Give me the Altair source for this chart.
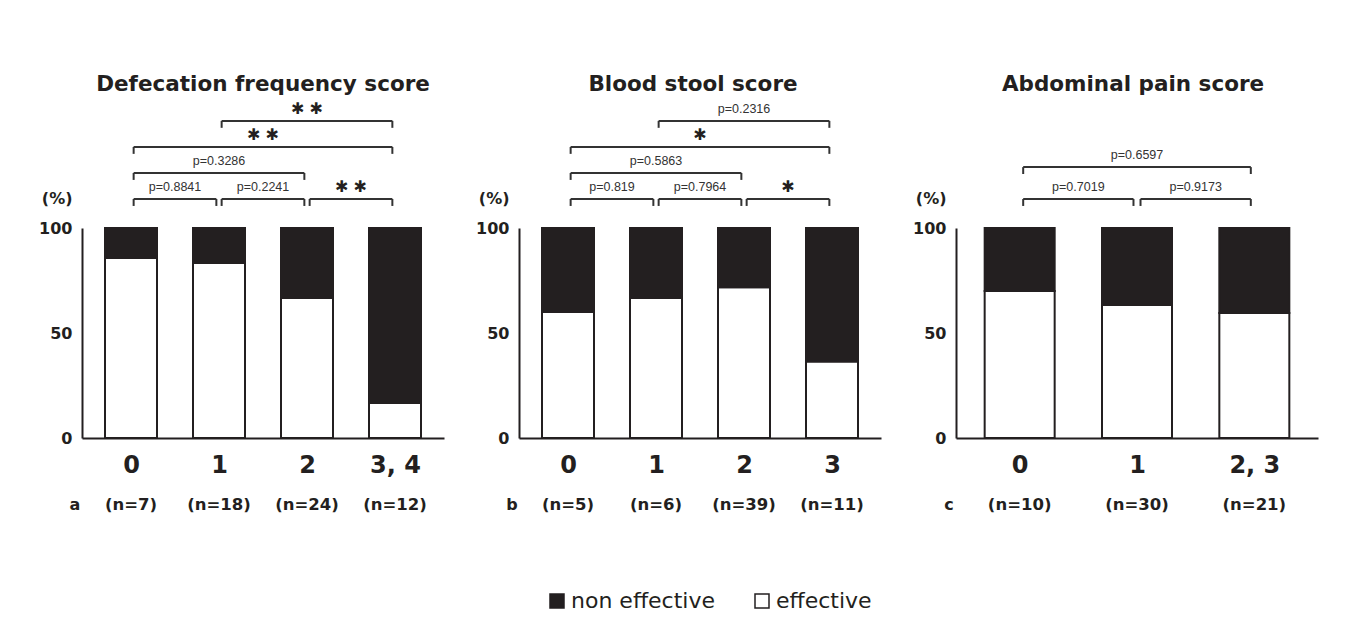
import json
import altair as alt
import pandas as pd

BLACK = "#231f20"
GRAY = "#333333"
BOLDFONT = "DejaVu Sans"

# ---------------- data ----------------
a_title = "Defecation frequency score"
a_cats = ["0", "1", "2", "3, 4"]
a_ns = ["(n=7)", "(n=18)", "(n=24)", "(n=12)"]
a_eff = [85.7, 83.3, 66.7, 16.7]
a_from = [0, 1, 2, 0, 0, 1]
a_to = [1, 2, 3, 2, 3, 3]
a_level = [1, 1, 1, 2, 3, 4]
a_label = ["p=0.8841", "p=0.2241", "✱ ✱", "p=0.3286", "✱ ✱", "✱ ✱"]

b_title = "Blood stool score"
b_cats = ["0", "1", "2", "3"]
b_ns = ["(n=5)", "(n=6)", "(n=39)", "(n=11)"]
b_eff = [60.0, 66.7, 71.8, 36.4]
b_from = [0, 1, 2, 0, 0, 1]
b_to = [1, 2, 3, 2, 3, 3]
b_level = [1, 1, 1, 2, 3, 4]
b_label = ["p=0.819", "p=0.7964", "✱", "p=0.5863", "✱", "p=0.2316"]

c_title = "Abdominal pain score"
c_cats = ["0", "1", "2, 3"]
c_ns = ["(n=10)", "(n=30)", "(n=21)"]
c_eff = [70.0, 63.3, 59.5]
c_from = [0, 1, 0]
c_to = [1, 2, 2]
c_level = [1, 1, 2]
c_label = ["p=0.7019", "p=0.9173", "p=0.6597"]

STATUS = ["non effective", "effective"]


def panel(title, cats, ns, eff, b_from, b_to, b_level, b_label, letter,
          bar_size, level_gap, show_legend, title_dx):
    n = len(cats)
    idx = list(range(n))
    bars = pd.DataFrame({
        "idx": idx * 2,
        "status": ["effective"] * n + ["non effective"] * n,
        "pct": eff + [round(100 - e, 1) for e in eff],
        "ord": [0] * n + [1] * n,
    })
    brackets = pd.DataFrame({"i0": b_from, "i1": b_to, "level": b_level, "label": b_label})
    nlab = pd.DataFrame({"idx": idx, "n": ns})

    xscale = alt.Scale(domain=[-0.5, n - 0.5], nice=False, zero=False)
    yscale = alt.Scale(domain=[0, 100], nice=False, zero=False)
    xaxis = alt.Axis(
        values=idx, labelExpr=f"{json.dumps(cats)}[datum.value]", title=None,
        ticks=False, grid=False, labelFontSize=24, labelFontWeight="bold",
        labelFont=BOLDFONT, labelColor=BLACK, labelPadding=15,
        domainColor=BLACK, domainWidth=2, labelFlush=False)
    yaxis = alt.Axis(
        values=[0, 50, 100], title="(%)", titleAngle=0, titleAlign="right",
        titleBaseline="middle", titleX=-10, titleY=-30, titleFontSize=16,
        titleFont=BOLDFONT, titleFontWeight="bold", titleColor=BLACK,
        ticks=False, grid=False, labelFontSize=16, labelFontWeight="bold",
        labelFont=BOLDFONT, labelColor=BLACK, labelPadding=10,
        domainColor=BLACK, domainWidth=2)

    def X(field):
        return alt.X(field, scale=xscale, axis=xaxis)

    def Y(field, **kw):
        return alt.Y(field, scale=yscale, axis=yaxis, **kw)

    legend = None
    if show_legend:
        legend = alt.Legend(
            orient="none", legendX=464, legendY=362, direction="horizontal",
            title=None, symbolType="square", symbolSize=196,
            symbolStrokeColor=BLACK, symbolStrokeWidth=1.5, symbolOpacity=1,
            labelFontSize=22, labelFont="DejaVu Sans", labelColor=BLACK,
            columnPadding=36, labelOffset=3,
        )

    bar = alt.Chart(bars).mark_bar(size=bar_size, stroke=BLACK, strokeWidth=2, opacity=1).encode(
        x=X("idx:Q"),
        y=Y("pct:Q", stack="zero"),
        color=alt.Color("status:N", scale=alt.Scale(domain=STATUS, range=[BLACK, "white"]),
                        legend=legend),
        order=alt.Order("ord:Q"),
    )

    br = alt.Chart(brackets).transform_calculate(
        x1="datum.i0 + 0.03",
        x2="datum.i1 - 0.03",
        xm="(datum.i0 + datum.i1) / 2",
        yb=f"113.8 + (datum.level - 1) * {level_gap}",
        yt=f"113.8 + (datum.level - 1) * {level_gap} - 3.3",
        ylab=f"113.8 + (datum.level - 1) * {level_gap} + 5.6",
    )
    hline = br.mark_rule(color=GRAY, strokeWidth=2).encode(
        x=X("x1:Q"), x2="x2:Q", y=Y("yb:Q"))
    tick1 = br.mark_rule(color=GRAY, strokeWidth=2).encode(
        x=X("x1:Q"), y=Y("yb:Q"), y2="yt:Q")
    tick2 = br.mark_rule(color=GRAY, strokeWidth=2).encode(
        x=X("x2:Q"), y=Y("yb:Q"), y2="yt:Q")
    ptext = br.transform_filter("indexof(datum.label, 'p=') == 0").mark_text(
        fontSize=12.5, font="Liberation Sans", color=GRAY, baseline="middle").encode(
        x=X("xm:Q"), y=Y("ylab:Q"), text="label:N")
    stext = br.transform_filter("indexof(datum.label, 'p=') < 0").mark_text(
        fontSize=16, font="DejaVu Sans", color=BLACK, baseline="middle").encode(
        x=X("xm:Q"), y=Y("ylab:Q"), text="label:N")

    ntext = alt.Chart(nlab).mark_text(
        fontSize=16.5, fontWeight="bold", font=BOLDFONT, color=BLACK,
        baseline="middle").encode(
        x=X("idx:Q"),
        y=alt.YDatum(-32, scale=yscale, axis=yaxis), text="n:N")

    extra = pd.DataFrame({"title": [title], "letter": [letter]})
    ttext = alt.Chart(extra).mark_text(
        fontSize=21.5, fontWeight="bold", font=BOLDFONT, color=BLACK,
        baseline="middle", dx=title_dx).encode(
        x=alt.XDatum((n - 1) / 2, scale=xscale, axis=xaxis),
        y=alt.YDatum(168, scale=yscale, axis=yaxis), text="title:N")
    ltext = alt.Chart(extra).mark_text(
        fontSize=16, fontWeight="bold", font=BOLDFONT, color=BLACK,
        baseline="middle", dx=-12).encode(
        x=alt.XDatum(-0.5, scale=xscale, axis=xaxis),
        y=alt.YDatum(-32, scale=yscale, axis=yaxis), text="letter:N")

    return alt.layer(bar, hline, tick1, tick2, ptext, stext, ntext, ttext, ltext).properties(
        width=362, height=210)


pa = panel(a_title, a_cats, a_ns, a_eff, a_from, a_to, a_level, a_label, "a", 52, 12.4, True, 0)
pb = panel(b_title, b_cats, b_ns, b_eff, b_from, b_to, b_level, b_label, "b", 52, 12.4, False, -7)
pc = panel(c_title, c_cats, c_ns, c_eff, c_from, c_to, c_level, c_label, "c", 70, 15.2, False, -4)

chart = alt.hconcat(pa, pb, pc, spacing=31).resolve_legend(color="shared").properties(
    padding={"left": 30, "top": 66, "right": 10, "bottom": 10}
).configure_view(stroke=None)

chart.save("out.html", embed_options={"renderer": "svg", "actions": False})
